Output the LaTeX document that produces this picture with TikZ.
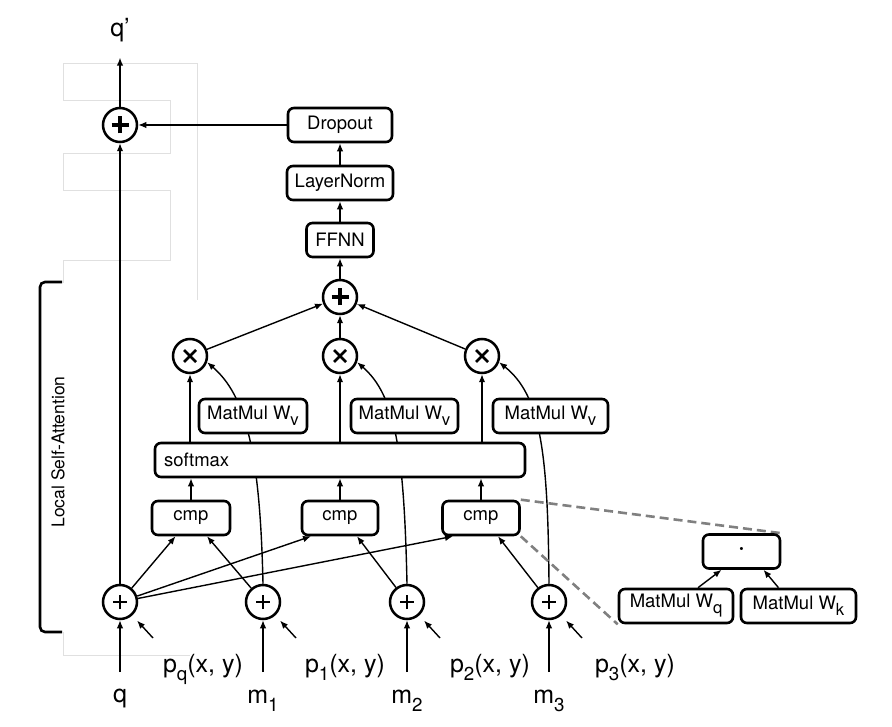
\documentclass[tikz,border=0pt]{standalone}
\usepackage{fontspec}
\setmainfont{TeX Gyre Heros}
\usetikzlibrary{arrows.meta,calc}
\pgfdeclarelayer{bg}
\pgfsetlayers{bg,main}
\newcommand\mysub[2][0.75]{\raisebox{-0.32em}{\scalebox{#1}{#2}}}
\begin{document}
\begin{tikzpicture}[x=1pt,y=-1pt,
  every node/.style={font=\fontsize{18.5}{21}\selectfont, inner sep=0pt},
  box/.style={draw, line width=2.6pt, rounded corners=6pt, fill=white, minimum height=34pt},
  circ/.style={draw, circle, line width=2.5pt, minimum size=34pt, fill=white},
  boldplus/.style={circ, path picture={\draw[line width=3.2pt]
     ([xshift=-8.5pt]path picture bounding box.center) -- ([xshift=8.5pt]path picture bounding box.center)
     ([yshift=-8.5pt]path picture bounding box.center) -- ([yshift=8.5pt]path picture bounding box.center);}},
  thinplus/.style={circ, path picture={\draw[line width=1.3pt]
     ([xshift=-7pt]path picture bounding box.center) -- ([xshift=7pt]path picture bounding box.center)
     ([yshift=-7pt]path picture bounding box.center) -- ([yshift=7pt]path picture bounding box.center);}},
  timescirc/.style={circ, path picture={\draw[line width=2.8pt]
     ([xshift=-6pt,yshift=-6pt]path picture bounding box.center) -- ([xshift=6pt,yshift=6pt]path picture bounding box.center)
     ([xshift=-6pt,yshift=6pt]path picture bounding box.center) -- ([xshift=6pt,yshift=-6pt]path picture bounding box.center);}},
  lbl/.style={font=\fontsize{25}{28}\selectfont},
  arr/.style={line width=1.4pt, -{Latex[length=8pt,width=6.5pt]}},
  dash line/.style={line width=2.6pt, color=black!50, dash pattern=on 9pt off 5pt},
  faint/.style={line width=0.8pt, color=black!12}
]
\useasboundingbox (0,0) rectangle (892,727);

% faint background lines
\draw[faint] (63,63) -- (63,100) -- (170,100) -- (170,153) -- (63,153) -- (63,190) -- (170,190) -- (170,260) -- (63,260) -- (63,283);
\draw[faint] (63,63) -- (197,63) -- (197,300);
\draw[faint] (63,632) -- (63,655) -- (190,655);

% top part
\node[lbl, anchor=base] (qp) at (120,37) {q'};
\node[boldplus] (top) at (120,125) {};
\node[box, minimum width=104pt] (drop) at (340,125) {Dropout};
\node[box, minimum width=106pt] (lnorm) at (340,183) {LayerNorm};
\node[box, minimum width=67pt] (ffnn) at (340,240) {FFNN};
\node[boldplus] (sum) at (340,297) {};

\node[timescirc] (x1) at (190,356) {};
\node[timescirc] (x2) at (340,356) {};
\node[timescirc] (x3) at (482,356) {};

\node[box, minimum width=108pt] (mv1) at (253,416) {MatMul W\mysub[0.9]{v}};
\node[box, minimum width=107pt] (mv2) at (404.5,416) {MatMul W\mysub[0.9]{v}};
\node[box, minimum width=115pt] (mv3) at (550.5,416) {MatMul W\mysub[0.9]{v}};

\node[box, minimum width=370pt, text width=352pt, inner xsep=9pt, align=left] (sm) at (340,460) {softmax};

\node[box, minimum width=78pt] (cmp1) at (191,518) {cmp};
\node[box, minimum width=76pt] (cmp2) at (340,518) {cmp};
\node[box, minimum width=77pt] (cmp3) at (481,518) {cmp};

\node[thinplus] (b0) at (120,602) {};
\node[thinplus] (b1) at (263,602) {};
\node[thinplus] (b2) at (407,602) {};
\node[thinplus] (b3) at (549,602) {};

\node[box, minimum width=77pt, font=\fontsize{30}{30}\selectfont] (dot) at (741.5,551.5) {·};
\node[box, minimum width=114pt] (Wq) at (676,606) {MatMul W\mysub[0.9]{q}};
\node[box, minimum width=115pt] (Wk) at (798.5,606) {MatMul W\mysub[0.9]{k}};

% labels
\node[lbl, anchor=base] (pq) at (203,672) {p\mysub{q}(x, y)};
\node[lbl, anchor=base] (p1) at (345,672) {p\mysub{1}(x, y)};
\node[lbl, anchor=base] (p2) at (490,672) {p\mysub{2}(x, y)};
\node[lbl, anchor=base] (p3) at (635,672) {p\mysub{3}(x, y)};
\node[lbl, anchor=base] (q) at (120,702) {q};
\node[lbl, anchor=base] (m1) at (263,703) {m\mysub{1}};
\node[lbl, anchor=base] (m2) at (407,703) {m\mysub{2}};
\node[lbl, anchor=base] (m3) at (549,703) {m\mysub{3}};

\node[rotate=90, font=\fontsize{17.5}{20}\selectfont] (lsa) at (58,452) {Local Self-Attention};
\draw[line width=2.6pt, rounded corners=5pt] (62,282) -- (40,282) -- (40,632) -- (62,632);

% input coordinates
\coordinate (qin) at (120,672);
\coordinate (m1in) at (263,672);
\coordinate (m2in) at (407,672);
\coordinate (m3in) at (549,672);
\coordinate (pin0) at (153,638);
\coordinate (pin1) at (296,638);
\coordinate (pin2) at (440,638);
\coordinate (pin3) at (582,638);

% curves behind MatMul boxes
\begin{pgfonlayer}{bg}
\draw[arr] (b1.north) .. controls ($(b1.north)+(-3,-135)$) and ($(x1)+(55,39)$) .. (x1.-20);
\draw[arr] (b2.north) .. controls ($(b2.north)+(-3,-135)$) and ($(x2)+(55,39)$) .. (x2.-20);
\draw[arr] (b3.north) .. controls ($(b3.north)+(-1,-135)$) and ($(x3)+(58,39)$) .. (x3.-20);
\draw[dash line] (cmp3.north east) -- (dot.north east);
\draw[dash line] (cmp3.south east) -- (Wq.south west);
\end{pgfonlayer}

% connectors
\draw[arr] (b0) -- (top);
\draw[arr] (top.north) -- ([yshift=-15pt]top.north |- qp.south);
\draw[arr] (drop) -- (top);
\draw[arr] (lnorm) -- (drop);
\draw[arr] (ffnn) -- (lnorm);
\draw[arr] (sum) -- (ffnn);
\draw[arr] (x1) -- (sum);
\draw[arr] (x2) -- (sum);
\draw[arr] (x3) -- (sum);
\draw[arr] (x1 |- sm.north) -- (x1);
\draw[arr] (x2 |- sm.north) -- (x2);
\draw[arr] (x3 |- sm.north) -- (x3);
\draw[arr] (cmp1) -- (cmp1 |- sm.south);
\draw[arr] (cmp2) -- (cmp2 |- sm.south);
\draw[arr] (cmp3) -- (cmp3 |- sm.south);
\draw[arr] (b0) -- (cmp1);
\draw[arr] (b0) -- ($(cmp2.south)+(-29,0)$);
\draw[arr] (b0) -- ($(cmp3.south)+(-28,0)$);
\draw[arr] (b1) -- ($(cmp1.south)+(16,0)$);
\draw[arr] (b2) -- ($(cmp2.south)+(17,0)$);
\draw[arr] (b3) -- ($(cmp3.south)+(17,0)$);
\draw[arr] (qin) -- (b0);
\draw[arr] (m1in) -- (b1);
\draw[arr] (m2in) -- (b2);
\draw[arr] (m3in) -- (b3);
\draw[arr, shorten >=7pt] (pin0) -- (b0);
\draw[arr, shorten >=7pt] (pin1) -- (b1);
\draw[arr, shorten >=7pt] (pin2) -- (b2);
\draw[arr, shorten >=7pt] (pin3) -- (b3);
\draw[arr] ($(Wq.north)+(22,0)$) -- ($(dot.south)+(-20,0)$);
\draw[arr] ($(Wk.north)+(-20,0)$) -- ($(dot.south)+(22,0)$);
\end{tikzpicture}
\end{document}
